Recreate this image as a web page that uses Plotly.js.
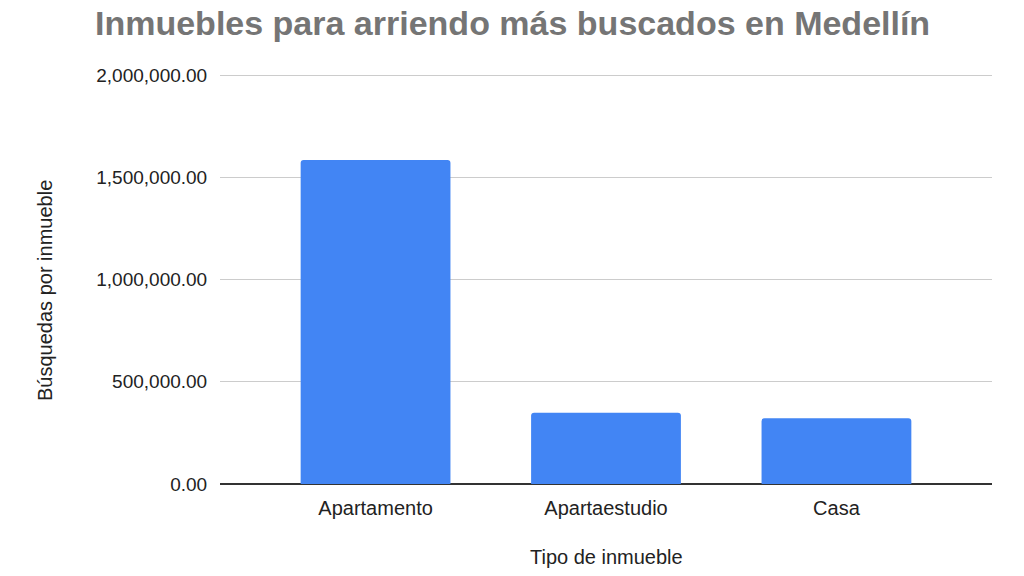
<!DOCTYPE html>
<html>
<head>
<meta charset="utf-8">
<script src="https://cdn.plot.ly/plotly-3.0.1.min.js"></script>
<style>html,body{margin:0;padding:0;background:#fff;}#chart{width:1024px;height:576px;}</style>
</head>
<body>
<div id="chart"></div>
<script>
var categories = ["Apartamento", "Apartaestudio", "Casa"];
var busquedas = [1585000, 348000, 322000];
var chartTitle = "Inmuebles para arriendo más buscados en Medellín";
var xTitle = "Tipo de inmueble";
var yTitle = "Búsquedas por inmueble";
var yTicks = [0, 500000, 1000000, 1500000, 2000000];

var font = "Liberation Sans, Arial, sans-serif";
var trace = {
  type: "bar",
  x: categories,
  y: busquedas,
  marker: {color: "#4285F4", cornerradius: 3},
  hoverinfo: "none"
};
var layout = {
  width: 1024, height: 576,
  margin: {l: 220, r: 32, t: 74, b: 92},
  paper_bgcolor: "#fff", plot_bgcolor: "#fff",
  showlegend: false,
  bargap: 0.35,
  font: {family: font, color: "#222"},
  xaxis: {
    range: [-0.675, 2.675],
    showgrid: false, showline: false, zeroline: false,
    tickfont: {family: font, size: 20, color: "#222"},
    ticks: "outside", ticklen: 6, tickcolor: "rgba(0,0,0,0)"
  },
  yaxis: {
    range: [0, 2005000], tickvals: yTicks, tickformat: ",.2f",
    showgrid: true, gridcolor: "#cccccc", gridwidth: 1,
    zeroline: true, zerolinecolor: "#333333", zerolinewidth: 1.3,
    showline: false,
    tickfont: {family: font, size: 19, color: "#222"},
    ticks: "outside", ticklen: 8, tickcolor: "rgba(0,0,0,0)"
  },
  annotations: [
    {text: chartTitle, xref: "paper", yref: "paper", x: (512-220)/772, y: (484-23)/410,
     xanchor: "center", yanchor: "middle", showarrow: false,
     font: {family: font, size: 34, color: "#757575", weight: "bold"}},
    {text: xTitle, xref: "paper", yref: "paper", x: 0.5, y: (484-557)/410,
     xanchor: "center", yanchor: "middle", showarrow: false,
     font: {family: font, size: 20, color: "#222"}},
    {text: yTitle, xref: "paper", yref: "paper", x: (45-220)/772, y: (484-291)/410,
     xanchor: "center", yanchor: "middle", showarrow: false, textangle: -90,
     font: {family: font, size: 20, color: "#222"}}
  ]
};
Plotly.newPlot("chart", [trace], layout, {staticPlot: true, displayModeBar: false});
</script>
</body>
</html>
